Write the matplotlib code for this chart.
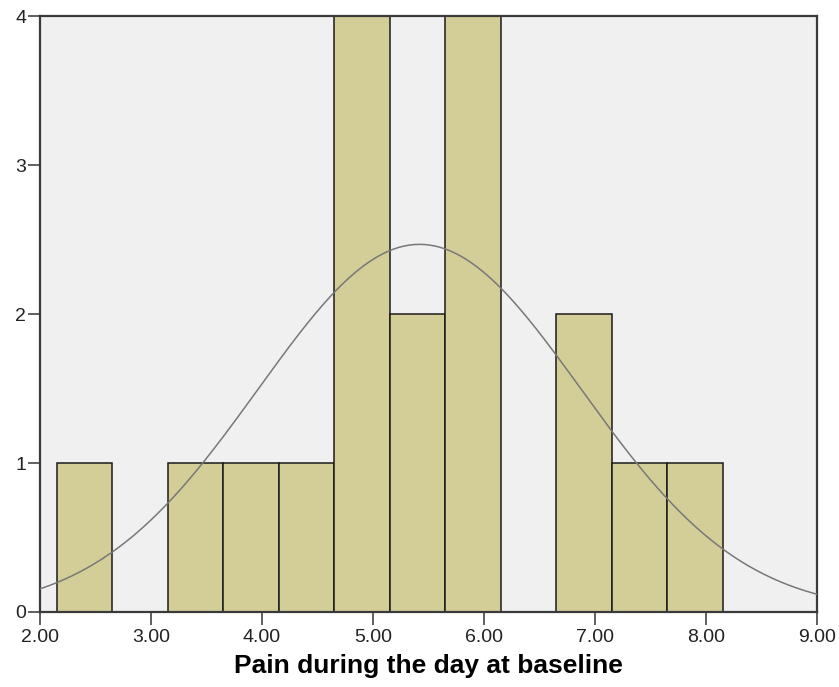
import numpy as np
import matplotlib
matplotlib.use('Agg')
import matplotlib.pyplot as plt

# histogram bins (lower edges) and counts
bin_edges = [2.15, 2.65, 3.15, 3.65, 4.15, 4.65, 5.15, 5.65, 6.15, 6.65, 7.15, 7.65, 8.15]
counts = [1, 0, 1, 1, 1, 4, 2, 4, 0, 2, 1, 1]

# normal curve parameters (SPSS style overlay)
mean = 5.42
std_dev = 1.454
n = 18

x_ticks = [2, 3, 4, 5, 6, 7, 8, 9]
y_ticks = [0, 1, 2, 3, 4]

plt.rcParams['font.family'] = ['Liberation Sans', 'DejaVu Sans']

fig = plt.figure(figsize=(8.39, 6.87), dpi=100)
ax = fig.add_axes([0.0477, 0.1092, 0.926, 0.8668])
ax.set_facecolor('#f0f0f0')

widths = np.diff(bin_edges)
ax.bar(bin_edges[:-1], counts, width=widths, align='edge',
       color='#d3ce97', edgecolor='#1a1a1a', linewidth=1.1, zorder=2)

# fitted normal curve
xs = np.linspace(2, 9, 300)
bw = widths[0]
ys = n * bw / (std_dev * np.sqrt(2 * np.pi)) * np.exp(-0.5 * ((xs - mean) / std_dev) ** 2)
ax.plot(xs, ys, color='#787878', lw=1.1, zorder=3)

ax.set_xlim(2, 9)
ax.set_ylim(0, 4)
ax.set_xticks(x_ticks)
ax.set_xticklabels(['%.2f' % t for t in x_ticks])
ax.set_yticks(y_ticks)
ax.tick_params(axis='x', length=9, width=1.2, color='#444444', labelsize=14, labelcolor='#222222', pad=3)
ax.tick_params(axis='y', length=9, width=1.2, color='#444444', labelsize=14, labelcolor='#222222', pad=1)
for s in ax.spines.values():
    s.set_linewidth(1.6)
    s.set_color('#3a3a3a')

ax.set_xlabel('Pain during the day at baseline', fontsize=19, fontweight='bold', labelpad=6)

fig.savefig('out.png', dpi=100)
